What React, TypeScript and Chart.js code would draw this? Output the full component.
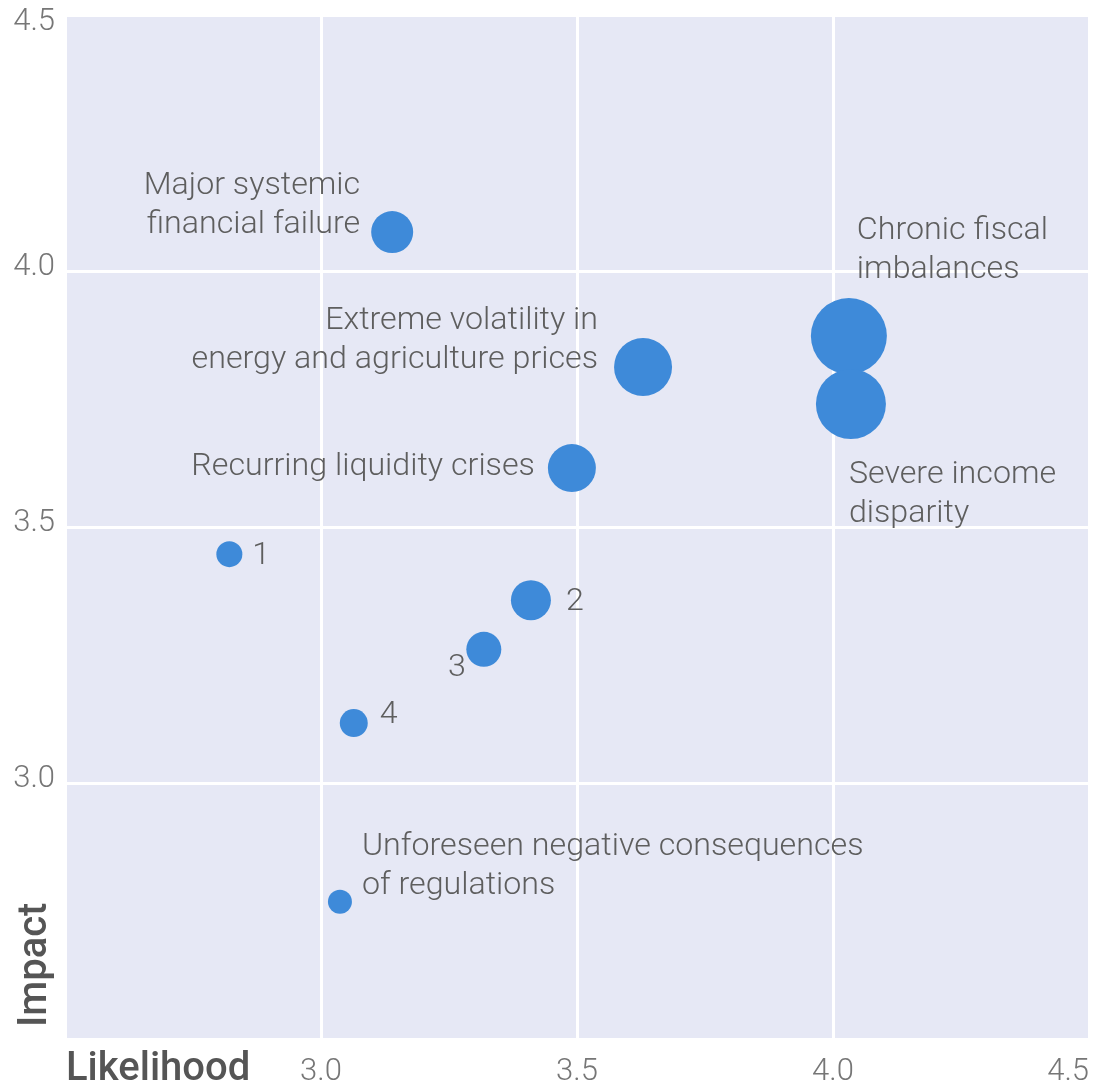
import { useEffect, useRef } from 'react';
import { Chart, registerables } from 'chart.js';

Chart.register(...registerables);

// ---- data ----
const riskLabels: string[][] = [
  ['Major systemic', 'financial failure'],
  ['Chronic fiscal', 'imbalances'],
  ['Severe income', 'disparity'],
  ['Extreme volatility in', 'energy and agriculture prices'],
  ['Recurring liquidity crises'],
  ['1'],
  ['2'],
  ['3'],
  ['4'],
  ['Unforeseen negative consequences', 'of regulations'],
];
const likelihood = [3.139, 4.031, 4.035, 3.629, 3.49, 2.821, 3.41, 3.318, 3.064, 3.037];
const impact = [4.076, 3.873, 3.74, 3.8125, 3.615, 3.447, 3.357, 3.261, 3.117, 2.768];
const bubbleRadius = [21, 38, 35, 29, 24, 13, 20, 17.5, 14, 12];
const xTickLabels = ['', '3.0', '3.5', '4.0', '4.5'];
const yTickLabels = ['', '3.0', '3.5', '4.0', '4.5'];
const xTitle = 'Likelihood';
const yTitle = 'Impact';

// ---- label placement (style only) ----
type Place = { align: CanvasTextAlign; dx: number; dy: number };
const labelPlacement: Place[] = [
  { align: 'right', dx: -32, dy: -38 },
  { align: 'left', dx: 8, dy: -97 },
  { align: 'left', dx: -2, dy: 79 },
  { align: 'right', dx: -45, dy: -38 },
  { align: 'right', dx: -37, dy: 7 },
  { align: 'left', dx: 23, dy: 10 },
  { align: 'left', dx: 35, dy: 10 },
  { align: 'right', dx: -18, dy: 27 },
  { align: 'left', dx: 26, dy: 0 },
  { align: 'left', dx: 22, dy: -47 },
];

const BUBBLE = '#3E8AD9';
const PLOT_BG = '#E6E8F5';
const LABEL_COLOR = '#5e5e5e';
const TICK_COLOR = '#767676';
const TITLE_COLOR = '#555555';
const FAMILY = 'Roboto, "Liberation Sans", Arial, sans-serif';
const LABEL_FONT = `300 32.2px ${FAMILY}`;
const TICK_FONT = `300 31px ${FAMILY}`;
const TITLE_FONT = `500 40px ${FAMILY}`;
const LINE_GAP = 39;

const decorPlugin = {
  id: 'decor',
  beforeDraw(chart: any) {
    const { ctx, chartArea } = chart;
    ctx.save();
    ctx.fillStyle = PLOT_BG;
    ctx.fillRect(chartArea.left, chartArea.top, chartArea.right - chartArea.left, chartArea.bottom - chartArea.top);
    ctx.restore();
  },
  afterDatasetsDraw(chart: any) {
    const { ctx, chartArea } = chart;
    const meta = chart.getDatasetMeta(0);
    ctx.save();
    ctx.font = LABEL_FONT;
    ctx.fillStyle = LABEL_COLOR;
    ctx.textBaseline = 'alphabetic';
    meta.data.forEach((pt: any, i: number) => {
      const p = labelPlacement[i];
      ctx.textAlign = p.align;
      riskLabels[i].forEach((line, k) => {
        ctx.fillText(line, pt.x + p.dx, pt.y + p.dy + k * LINE_GAP);
      });
    });
    // y tick labels (kept inside canvas at the top edge)
    const yScale = chart.scales.y;
    ctx.font = TICK_FONT;
    ctx.fillStyle = TICK_COLOR;
    ctx.textAlign = 'right';
    ctx.textBaseline = 'middle';
    yScale.ticks.forEach((t: any, i: number) => {
      const py = yScale.getPixelForValue(t.value);
      ctx.fillText(yTickLabels[i] ?? '', chartArea.left - 10, Math.max(py - 4, chartArea.top + 7));
    });
    // axis titles
    ctx.font = TITLE_FONT;
    ctx.fillStyle = TITLE_COLOR;
    ctx.textAlign = 'left';
    ctx.textBaseline = 'alphabetic';
    ctx.fillText(xTitle, chartArea.left + 1, chartArea.bottom + 41);
    ctx.translate(chartArea.left - 19, chartArea.bottom - 12);
    ctx.rotate(-Math.PI / 2);
    ctx.fillText(yTitle, 0, 0);
    ctx.restore();
  },
};

export default function App() {
  const canvasRef = useRef<HTMLCanvasElement | null>(null);

  useEffect(() => {
    if (!canvasRef.current) return;
    const chart = new Chart(canvasRef.current, {
      type: 'bubble',
      data: {
        datasets: [
          {
            data: likelihood.map((x, i) => ({ x, y: impact[i], r: bubbleRadius[i] })),
            backgroundColor: BUBBLE,
            borderWidth: 0,
            hoverBorderWidth: 0,
          },
        ],
      },
      options: {
        animation: false,
        responsive: false,
        events: [],
        layout: { autoPadding: false, padding: { top: 15, right: 16, left: 0, bottom: 0 } },
        plugins: { legend: { display: false }, tooltip: { enabled: false } },
        scales: {
          x: {
            type: 'linear',
            min: 2.5,
            max: 4.5,
            afterFit: (s: any) => {
              s.height = 45;
            },
            grid: { color: '#ffffff', lineWidth: 3, drawTicks: false },
            border: { display: false },
            ticks: {
              stepSize: 0.5,
              align: 'inner',
              padding: 15,
              color: TICK_COLOR,
              font: { family: FAMILY, size: 31, weight: '300' },
              callback: (_v: any, i: number) => xTickLabels[i],
            },
          },
          y: {
            type: 'linear',
            min: 2.5,
            max: 4.5,
            afterFit: (s: any) => {
              s.width = 65;
            },
            grid: { color: '#ffffff', lineWidth: 3, drawTicks: false },
            border: { display: false },
            ticks: {
              stepSize: 0.5,
              display: false,
            },
          },
        },
      },
      plugins: [decorPlugin],
    } as any);
    return () => chart.destroy();
  }, []);

  return (
    <div style={{ position: 'fixed', left: 0, top: 0, width: 1105, height: 1084, background: '#ffffff' }}>
      <canvas ref={canvasRef} width={1105} height={1084} style={{ display: 'block' }} />
    </div>
  );
}
